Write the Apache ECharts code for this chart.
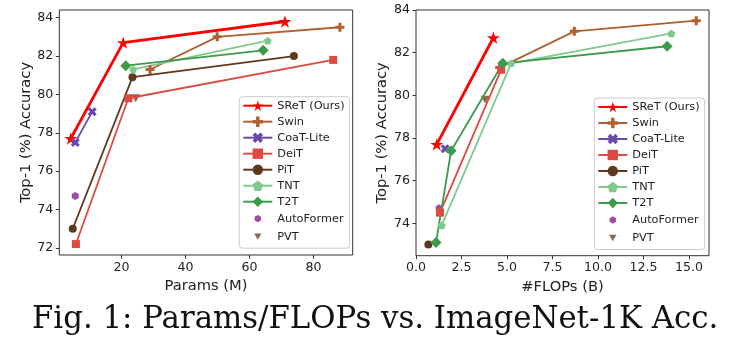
<!DOCTYPE html>
<html>
<head>
<meta charset="utf-8">
<script src="https://cdn.jsdelivr.net/npm/echarts@6/dist/echarts.min.js"></script>
<style>
  html, body { margin: 0; padding: 0; background: #fff; }
  #main { width: 730px; height: 353px; }
</style>
</head>
<body>
<div id="main"></div>
<script>
// series names, legend order
var names = ["SReT (Ours)", "Swin", "CoaT-Lite", "DeiT", "PiT", "TNT", "T2T", "AutoFormer", "PVT"];

// left panel: [params (M), top-1 acc]
var sretParams = [[4.1, 77.7], [20.5, 82.7], [71.1, 83.8]];
var swinParams = [[28.9, 81.3], [49.9, 83.0], [88.3, 83.5]];
var coatParams = [[5.5, 77.5], [10.8, 79.1]];
var deitParams = [[5.7, 72.2], [22.1, 79.8], [86.2, 81.8]];
var pitParams = [[4.7, 73.0], [23.4, 80.9], [73.9, 82.0]];
var tntParams = [[23.6, 81.3], [65.7, 82.8]];
var t2tParams = [[21.3, 81.5], [64.3, 82.3]];
var autoParams = [[5.5, 74.7]];
var pvtParams = [[24.4, 79.8]];

// right panel: [FLOPs (B), top-1 acc]
var sretFlops = [[1.14, 77.7], [4.25, 82.7]];
var swinFlops = [[4.6, 81.3], [8.7, 83.0], [15.4, 83.5]];
var coatFlops = [[1.6, 77.5]];
var deitFlops = [[1.32, 74.5], [4.68, 81.2]];
var pitFlops = [[0.68, 73.0]];
var tntFlops = [[1.41, 73.9], [5.23, 81.5], [14.03, 82.9]];
var t2tFlops = [[1.1, 73.1], [1.93, 77.4], [4.77, 81.5], [13.8, 82.3]];
var autoFlops = [[1.27, 74.7]];
var pvtFlops = [[3.8, 79.8]];

// tick labels
var paramTicks = [20, 40, 60, 80];
var flopTicks = [0, 2.5, 5, 7.5, 10, 12.5, 15];
var accTicksL = [72, 74, 76, 78, 80, 82, 84];
var accTicksR = [74, 76, 78, 80, 82, 84];

var STAR = "path://M0,-10 L2.245,-3.09 L9.51,-3.09 L3.633,1.18 L5.88,8.09 L0,3.82 L-5.88,8.09 L-3.633,1.18 L-9.51,-3.09 L-2.245,-3.09 Z";
var PLUS = "path://M-1,-3 L1,-3 L1,-1 L3,-1 L3,1 L1,1 L1,3 L-1,3 L-1,1 L-3,1 L-3,-1 L-1,-1 Z";
var XFILL = "path://M1.414,-2.828 L2.828,-1.414 L1.414,0 L2.828,1.414 L1.414,2.828 L0,1.414 L-1.414,2.828 L-2.828,1.414 L-1.414,0 L-2.828,-1.414 L-1.414,-2.828 L0,-1.414 Z";
var PENTA = "path://M0,-10 L9.51,-3.09 L5.88,8.09 L-5.88,8.09 L-9.51,-3.09 Z";
var HEXA = "path://M0,-10 L8.66,-5 L8.66,5 L0,10 L-8.66,5 L-8.66,-5 Z";
var TRIDN = "path://M-10,-8.66 L10,-8.66 L0,8.66 Z";
// smaller legend icons for the marker-only entries (padded box)
var HEXA_LEG = "path://M-16,-16 M16,16 M0,-9 L7.8,-4.5 L7.8,4.5 L0,9 L-7.8,4.5 L-7.8,-4.5 Z";
var TRIDN_LEG = "path://M-16,-16 M16,16 M-9,-7.8 L9,-7.8 L0,7.8 Z";

var styles = [
  { color: "#ff0000", symbol: STAR, size: 13, lw: 2.8, type: "line" },
  { color: "#b0602f", symbol: PLUS, size: 9, lw: 1.8, type: "line" },
  { color: "#6a4aa8", symbol: XFILL, size: 9, lw: 1.8, type: "line" },
  { color: "#dc4a42", symbol: "rect", size: 8, lw: 1.8, type: "line" },
  { color: "#5c3a1e", symbol: "circle", size: 8, lw: 1.8, type: "line" },
  { color: "#80c98c", symbol: PENTA, size: 8, lw: 1.8, type: "line" },
  { color: "#3c9a4c", symbol: "diamond", size: 11, lw: 1.8, type: "line" },
  { color: "#9c4ea2", symbol: HEXA, size: 8, lw: 0, type: "scatter" },
  { color: "#8d6a4e", symbol: TRIDN, size: 9, lw: 0, type: "scatter" }
];

var leftData = [sretParams, swinParams, coatParams, deitParams, pitParams, tntParams, t2tParams, autoParams, pvtParams];
var rightData = [sretFlops, swinFlops, coatFlops, deitFlops, pitFlops, tntFlops, t2tFlops, autoFlops, pvtFlops];

var font = "DejaVu Sans";

function mk(i, data, idx) {
  var s = styles[i];
  var o = {
    name: names[i],
    type: s.type,
    xAxisIndex: idx,
    yAxisIndex: idx,
    data: data,
    symbol: s.symbol,
    symbolSize: s.size,
    symbolKeepAspect: true,
    itemStyle: { color: s.color, opacity: 1 },
    animation: false
  };
  if (s.type == "line") {
    o.lineStyle = { color: s.color, width: s.lw };
    o.showAllSymbol = true;
  }
  return o;
}

function xAx(idx, min, max, ticks, name, fmt) {
  return {
    type: "value", gridIndex: idx, min: min, max: max,
    name: name, nameLocation: "middle", nameGap: 18,
    nameTextStyle: { fontFamily: font, fontSize: 14.7, color: "#222" },
    axisLine: { show: false },
    axisTick: { show: true, inside: false, length: 3.5, customValues: ticks, lineStyle: { color: "#333" } },
    axisLabel: { customValues: ticks, margin: 6, fontFamily: font, fontSize: 12.6, color: "#222", formatter: fmt },
    splitLine: { show: false }
  };
}
function yAx(idx, min, max, ticks) {
  return {
    type: "value", gridIndex: idx, min: min, max: max,
    name: "Top-1 (%) Accuracy", nameLocation: "middle", nameGap: 25,
    nameTextStyle: { fontFamily: font, fontSize: 14.7, color: "#222" },
    axisLine: { show: false },
    axisTick: { show: true, inside: false, length: 3.5, customValues: ticks, lineStyle: { color: "#333" } },
    axisLabel: { customValues: ticks, margin: 6, fontFamily: font, fontSize: 12.6, color: "#222" },
    splitLine: { show: false }
  };
}

function legend(left, top) {
  var items = names.map(function (n) {
    if (n == "AutoFormer") return { name: n, icon: HEXA_LEG };
    if (n == "PVT") return { name: n, icon: TRIDN_LEG };
    return { name: n };
  });
  return {
    data: items, left: left, top: top, orient: "vertical",
    itemWidth: 29, itemHeight: 13, itemGap: 5,
    padding: [3.5, 5, 5, 3],
    borderColor: "#cccccc", borderWidth: 1, borderRadius: 3,
    backgroundColor: "rgba(255,255,255,0.8)",
    textStyle: { fontFamily: font, fontSize: 11.3, color: "#222" }
  };
}

var series = [];
for (var i = 0; i < names.length; i++) series.push(mk(i, leftData[i], 0));
for (var j = 0; j < names.length; j++) series.push(mk(j, rightData[j], 1));

var myChart = echarts.init(document.getElementById("main"), null, { renderer: "canvas" });
var option = {
  backgroundColor: "#fff",
  animation: false,
  title: {
    text: "Fig. 1: Params/FLOPs vs. ImageNet-1K Acc.",
    left: 32, top: 304, padding: 0,
    textStyle: { fontFamily: "DejaVu Serif", fontWeight: "normal", fontSize: 30.8, color: "#111" }
  },
  grid: [
    { left: 59.3, top: 10, width: 293.4, height: 245, show: true, borderColor: "#333", borderWidth: 1, backgroundColor: "transparent" },
    { left: 416, top: 10, width: 293, height: 245.7, show: true, borderColor: "#333", borderWidth: 1, backgroundColor: "transparent" }
  ],
  xAxis: [
    xAx(0, 0.5, 92.3, paramTicks, "Params (M)"),
    xAx(1, 0, 16.1, flopTicks, "#FLOPs (B)", function (v) { return v.toFixed(1); })
  ],
  yAxis: [
    yAx(0, 71.63, 84.4, accTicksL),
    yAx(1, 72.48, 84.0, accTicksR)
  ],
  legend: [legend(239.3, 96.7), legend(594.3, 98)],
  series: series
};
myChart.setOption(option);
</script>
</body>
</html>
